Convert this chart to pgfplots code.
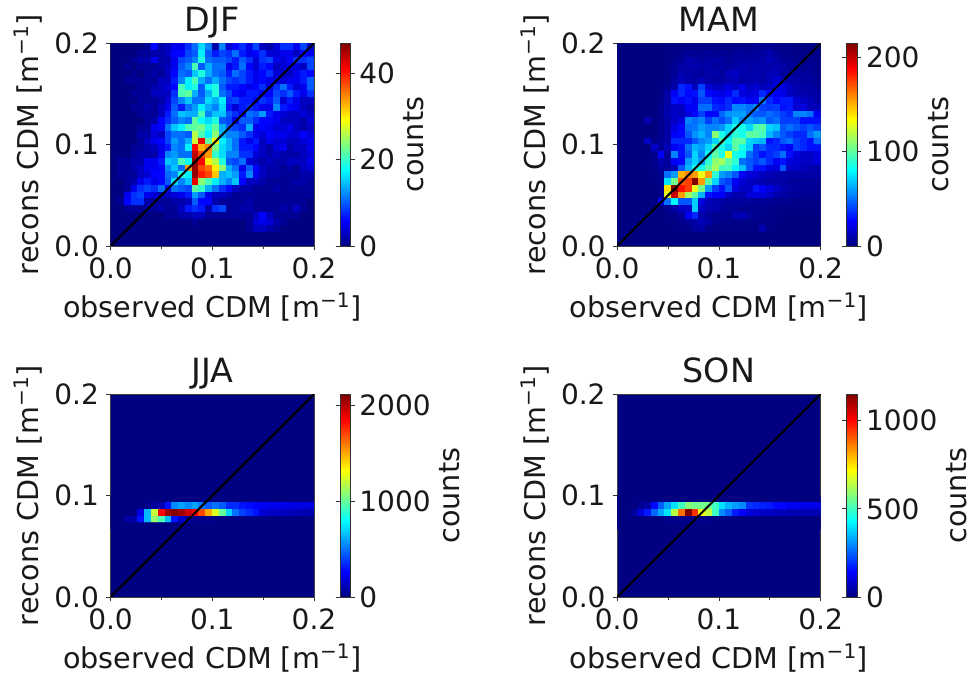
\documentclass[border=0pt]{standalone}
\usepackage{fontspec}
\setmainfont{DejaVu Sans}
\usepackage{pgfplots}
\pgfplotsset{compat=1.18}
\definecolor{jetlow}{rgb}{0,0,0.5}
\newcommand{\mone}{[m\textsuperscript{−1}]}
\pgfplotsset{
  panel/.style={
    scale only axis, width=152.6pt, height=152pt, anchor=south west,
    xmin=0, xmax=0.2, ymin=0, ymax=0.2,
    colormap/jet, point meta min=0,
    axis background/.style={fill=jetlow},
    axis line style={line width=0.6pt, black!75},
    tick style={line width=0.6pt, black!80},
    tick align=outside, tick pos=left,
    major tick length=3.2pt, minor tick length=2pt,
    xtick={0,0.1,0.2}, xticklabels={0.0,0.1,0.2},
    minor xtick={0.05,0.15},
    ytick={0,0.1,0.2}, yticklabels={0.0,0.1,0.2},
    ticklabel style={font=\fontsize{21}{22}\selectfont, text=black!90},
    xticklabel style={yshift=-2pt},
    yticklabel style={xshift=-2pt},
    xlabel={observed CDM \mone}, ylabel={recons CDM \mone},
    label style={font=\fontsize{21.5}{23}\selectfont, text=black!90},
    xlabel style={yshift=-4pt},
    ylabel style={yshift=2pt},
    title style={font=\fontsize{25}{27}\selectfont, text=black!90, anchor=base, yshift=2.5pt},
    colorbar,
  },
  cb/.style={
    colorbar style={
      at={(parent axis.south east)}, anchor=south west, xshift=11pt,
      width=7.8pt,
      axis line style={line width=0.5pt, black!80},
      tick style={line width=0.6pt, black!80},
      tick align=outside,
      major tick length=3.2pt,
      ticklabel style={font=\fontsize{21}{22}\selectfont, text=black!90},
      yticklabel style={xshift=0pt},
      ylabel={counts},
      ylabel style={font=\fontsize{21.5}{23}\selectfont, text=black!90, text depth=0pt, inner sep=0pt, yshift=-3pt},
      #1
    }
  },
  grid30/.style={
    matrix plot*, mesh/cols=30, point meta=explicit
  },
}
\begin{document}
\begin{tikzpicture}
\useasboundingbox (0,0) rectangle (728.25pt,505.5pt);

% DJF
\begin{axis}[panel, at={(82.9pt,321pt)}, title={DJF}, point meta max=47,
  cb={ytick={0,20,40}, yticklabels={0,20,40}}]
\addplot[grid30] table[row sep=\\, header=false, meta index=0,
  x expr={(mod(\coordindex,30)+0.5)/150}, y expr={0.2-(floor(\coordindex/30)+0.5)/150}] {
0\\0\\0\\0\\0\\1\\6\\2\\3\\5\\5\\8\\11\\16\\12\\2\\12\\4\\6\\8\\5\\9\\3\\2\\4\\8\\8\\5\\9\\3\\
0\\0\\0\\0\\1\\1\\2\\2\\3\\6\\6\\9\\10\\17\\10\\7\\9\\8\\11\\7\\5\\6\\8\\4\\4\\5\\5\\3\\6\\5\\
0\\0\\0\\1\\2\\2\\5\\2\\2\\5\\9\\10\\12\\19\\11\\10\\10\\9\\7\\10\\8\\4\\8\\9\\5\\4\\6\\8\\8\\9\\
0\\0\\1\\0\\1\\1\\1\\2\\3\\5\\10\\12\\21\\10\\14\\11\\11\\5\\7\\11\\6\\4\\7\\6\\3\\4\\5\\4\\3\\9\\
0\\0\\0\\1\\0\\1\\2\\1\\3\\6\\11\\10\\15\\19\\14\\11\\10\\7\\11\\9\\7\\5\\6\\8\\4\\3\\3\\5\\7\\6\\
0\\0\\1\\1\\1\\1\\1\\3\\3\\7\\12\\17\\21\\14\\11\\14\\11\\9\\8\\9\\7\\5\\6\\5\\4\\4\\5\\5\\7\\10\\
0\\0\\0\\0\\1\\1\\2\\3\\4\\6\\21\\17\\19\\10\\17\\19\\10\\7\\7\\6\\5\\6\\8\\4\\8\\11\\7\\4\\5\\10\\
0\\0\\0\\1\\1\\1\\3\\3\\3\\8\\21\\22\\14\\10\\14\\19\\11\\9\\6\\5\\7\\7\\5\\6\\9\\8\\10\\7\\5\\8\\
0\\0\\0\\0\\1\\1\\1\\2\\4\\9\\12\\15\\11\\11\\16\\14\\17\\8\\9\\7\\7\\6\\8\\7\\10\\4\\7\\5\\3\\3\\
0\\0\\0\\1\\1\\2\\1\\3\\5\\10\\7\\11\\13\\17\\14\\12\\16\\7\\4\\7\\8\\7\\5\\5\\12\\7\\6\\5\\3\\2\\
0\\0\\0\\0\\1\\1\\1\\3\\7\\11\\15\\14\\14\\21\\12\\15\\15\\10\\8\\6\\11\\10\\13\\7\\5\\4\\3\\3\\4\\3\\
0\\0\\0\\0\\0\\1\\2\\6\\8\\10\\12\\11\\22\\18\\16\\19\\10\\9\\5\\10\\10\\8\\6\\6\\5\\3\\3\\3\\2\\4\\
0\\0\\0\\0\\1\\1\\5\\6\\11\\15\\17\\21\\22\\23\\19\\22\\14\\10\\9\\8\\14\\5\\6\\5\\4\\4\\5\\3\\2\\3\\
0\\0\\0\\0\\2\\2\\4\\3\\9\\11\\11\\10\\26\\21\\17\\24\\14\\12\\12\\10\\8\\5\\4\\6\\5\\5\\4\\4\\6\\4\\
0\\0\\0\\0\\1\\3\\5\\6\\9\\13\\11\\14\\27\\42\\22\\30\\17\\14\\11\\7\\5\\7\\3\\5\\4\\4\\3\\3\\4\\5\\
0\\0\\0\\1\\1\\2\\3\\5\\7\\12\\11\\17\\41\\33\\35\\23\\16\\14\\11\\7\\7\\6\\3\\2\\4\\5\\2\\3\\3\\5\\
0\\0\\0\\1\\2\\2\\2\\5\\12\\13\\11\\11\\44\\38\\34\\20\\16\\12\\12\\8\\8\\4\\3\\2\\3\\2\\2\\2\\3\\4\\
0\\1\\1\\2\\2\\5\\5\\7\\15\\14\\21\\18\\46\\41\\30\\26\\19\\10\\9\\11\\4\\3\\2\\3\\2\\2\\3\\3\\3\\5\\
0\\1\\1\\2\\3\\5\\5\\6\\12\\15\\11\\34\\46\\38\\36\\30\\24\\14\\11\\5\\10\\6\\3\\2\\2\\1\\2\\1\\3\\4\\
0\\1\\1\\1\\3\\4\\6\\6\\11\\12\\19\\17\\46\\40\\38\\32\\14\\15\\13\\7\\12\\5\\3\\2\\2\\1\\1\\1\\2\\2\\
0\\0\\1\\2\\5\\7\\5\\6\\10\\16\\12\\15\\42\\24\\21\\17\\14\\12\\15\\6\\3\\3\\2\\1\\1\\1\\1\\2\\2\\1\\
0\\0\\1\\5\\8\\9\\8\\11\\5\\11\\10\\9\\22\\20\\14\\11\\8\\6\\3\\2\\2\\1\\1\\1\\2\\1\\1\\1\\1\\1\\
0\\0\\5\\8\\9\\5\\4\\2\\3\\4\\5\\7\\13\\10\\5\\3\\3\\2\\1\\1\\1\\1\\1\\1\\1\\1\\1\\1\\1\\1\\
0\\1\\6\\8\\8\\2\\1\\1\\1\\2\\2\\3\\10\\6\\6\\2\\1\\1\\1\\1\\2\\1\\1\\1\\1\\1\\1\\1\\1\\0\\
0\\0\\1\\1\\1\\1\\1\\2\\1\\1\\3\\7\\8\\7\\2\\8\\9\\1\\1\\2\\2\\1\\1\\1\\1\\2\\1\\3\\1\\0\\
0\\0\\0\\0\\0\\0\\0\\0\\1\\1\\2\\2\\3\\3\\1\\1\\1\\1\\1\\1\\1\\3\\6\\3\\1\\1\\1\\1\\0\\0\\
0\\0\\0\\0\\0\\0\\0\\0\\0\\0\\0\\0\\1\\0\\0\\0\\0\\0\\0\\0\\1\\4\\5\\4\\2\\1\\0\\0\\0\\0\\
0\\0\\0\\0\\0\\0\\0\\0\\0\\0\\0\\0\\0\\0\\0\\0\\0\\0\\0\\0\\1\\3\\3\\2\\1\\0\\0\\0\\0\\0\\
0\\0\\0\\0\\0\\0\\0\\0\\0\\0\\0\\0\\0\\0\\0\\0\\0\\0\\0\\0\\0\\0\\0\\0\\0\\0\\0\\0\\0\\0\\
0\\0\\0\\0\\0\\0\\0\\0\\0\\0\\0\\0\\0\\0\\0\\0\\0\\0\\0\\0\\0\\0\\0\\0\\0\\0\\0\\0\\0\\0\\
};
\addplot[black, line width=1.5pt] coordinates {(0,0) (0.2,0.2)};
\end{axis}

% MAM
\begin{axis}[panel, at={(462.9pt,321pt)}, title={MAM}, point meta max=215,
  cb={ytick={0,100,200}, yticklabels={0,100,200}}]
\addplot[grid30] table[row sep=\\, header=false, meta index=0,
  x expr={(mod(\coordindex,30)+0.5)/150}, y expr={0.2-(floor(\coordindex/30)+0.5)/150}] {
0\\0\\0\\0\\0\\0\\0\\0\\1\\1\\2\\2\\2\\2\\2\\2\\2\\3\\3\\3\\4\\4\\4\\3\\2\\2\\1\\1\\1\\1\\
0\\0\\0\\0\\0\\0\\0\\1\\2\\3\\5\\4\\4\\5\\4\\5\\4\\5\\6\\5\\6\\7\\10\\5\\3\\3\\2\\2\\2\\2\\
0\\0\\0\\0\\0\\0\\0\\1\\3\\5\\10\\8\\6\\7\\8\\7\\5\\6\\7\\8\\6\\8\\12\\8\\5\\4\\3\\2\\3\\3\\
0\\0\\0\\0\\0\\0\\0\\1\\4\\8\\8\\10\\8\\9\\7\\8\\6\\8\\10\\8\\9\\9\\8\\10\\8\\5\\5\\4\\5\\3\\
0\\0\\0\\0\\0\\0\\0\\1\\5\\10\\8\\7\\6\\8\\9\\6\\12\\14\\10\\9\\10\\8\\11\\12\\7\\8\\6\\6\\5\\3\\
0\\0\\0\\0\\0\\1\\1\\2\\6\\13\\9\\8\\12\\8\\7\\8\\10\\12\\8\\9\\10\\8\\12\\18\\14\\9\\8\\7\\7\\4\\
0\\0\\0\\0\\0\\0\\1\\3\\8\\35\\30\\12\\40\\18\\14\\14\\20\\15\\22\\14\\18\\13\\14\\22\\20\\14\\10\\8\\8\\5\\
0\\0\\0\\0\\0\\0\\2\\8\\25\\35\\28\\30\\45\\28\\24\\20\\25\\36\\20\\18\\20\\35\\28\\24\\22\\14\\11\\10\\8\\8\\
0\\0\\0\\0\\0\\0\\2\\8\\30\\25\\30\\22\\40\\40\\30\\28\\35\\28\\30\\24\\25\\50\\35\\28\\32\\32\\18\\14\\12\\8\\
0\\0\\0\\0\\0\\0\\3\\9\\15\\14\\25\\25\\50\\50\\35\\32\\36\\55\\55\\50\\55\\40\\38\\40\\30\\32\\18\\20\\12\\12\\
0\\0\\0\\0\\0\\0\\3\\10\\15\\12\\20\\28\\40\\28\\28\\48\\58\\60\\60\\50\\45\\45\\50\\45\\40\\35\\55\\55\\50\\25\\
0\\0\\0\\0\\10\\1\\3\\8\\15\\20\\55\\50\\55\\40\\50\\42\\50\\70\\55\\60\\55\\58\\45\\50\\40\\40\\40\\30\\30\\30\\
0\\0\\0\\0\\0\\0\\4\\8\\20\\28\\50\\52\\60\\55\\55\\58\\72\\85\\85\\72\\95\\100\\72\\68\\45\\50\\45\\40\\45\\40\\
0\\0\\0\\0\\0\\0\\3\\8\\25\\28\\45\\58\\65\\55\\110\\85\\72\\90\\85\\100\\100\\95\\65\\55\\45\\40\\35\\35\\50\\60\\
0\\0\\0\\0\\15\\3\\5\\8\\35\\35\\35\\45\\55\\60\\72\\95\\80\\100\\100\\72\\68\\65\\30\\35\\45\\50\\40\\35\\30\\50\\
0\\0\\0\\0\\0\\15\\5\\12\\25\\30\\50\\65\\60\\72\\95\\85\\72\\100\\85\\70\\40\\45\\35\\35\\30\\25\\40\\35\\30\\30\\
0\\0\\0\\0\\0\\3\\25\\5\\55\\30\\45\\72\\55\\80\\100\\85\\130\\85\\80\\50\\40\\30\\35\\40\\50\\30\\20\\15\\15\\20\\
0\\0\\0\\0\\1\\3\\10\\6\\25\\28\\60\\72\\60\\90\\110\\115\\100\\90\\50\\45\\40\\45\\35\\25\\30\\20\\18\\15\\15\\20\\
0\\0\\0\\0\\1\\2\\6\\6\\12\\45\\65\\85\\85\\100\\115\\95\\95\\78\\68\\45\\30\\30\\20\\20\\45\\15\\15\\12\\10\\10\\
0\\0\\0\\0\\0\\1\\3\\50\\60\\150\\160\\155\\130\\155\\90\\60\\55\\45\\25\\20\\18\\14\\12\\10\\8\\8\\8\\8\\8\\8\\
0\\0\\0\\0\\0\\1\\3\\75\\105\\170\\175\\215\\155\\100\\72\\45\\40\\25\\18\\14\\12\\10\\8\\8\\8\\6\\5\\5\\5\\5\\
0\\0\\0\\0\\0\\0\\2\\140\\215\\185\\175\\130\\105\\60\\40\\30\\45\\20\\14\\15\\30\\25\\20\\15\\10\\8\\6\\5\\5\\5\\
0\\0\\0\\0\\0\\0\\2\\130\\200\\155\\115\\100\\65\\30\\25\\25\\15\\10\\10\\18\\20\\20\\15\\10\\8\\6\\5\\4\\4\\4\\
0\\0\\0\\0\\0\\1\\25\\50\\80\\45\\45\\70\\20\\12\\10\\8\\6\\6\\6\\6\\5\\5\\5\\4\\3\\3\\2\\2\\2\\2\\
0\\0\\0\\0\\0\\0\\1\\3\\8\\15\\15\\70\\14\\10\\10\\6\\4\\4\\3\\3\\3\\3\\2\\2\\1\\1\\1\\1\\1\\1\\
0\\0\\0\\0\\0\\0\\0\\1\\2\\5\\25\\35\\10\\6\\4\\3\\3\\10\\12\\6\\3\\3\\2\\1\\1\\1\\1\\1\\1\\1\\
0\\0\\0\\0\\0\\0\\0\\0\\1\\3\\5\\8\\12\\8\\3\\2\\2\\2\\2\\2\\2\\2\\2\\1\\0\\0\\0\\0\\0\\0\\
0\\0\\0\\0\\0\\0\\0\\0\\0\\1\\2\\6\\8\\2\\1\\1\\1\\1\\1\\1\\1\\10\\1\\0\\0\\0\\0\\0\\0\\0\\
0\\0\\0\\0\\0\\0\\0\\0\\0\\0\\0\\0\\0\\0\\0\\0\\0\\0\\0\\0\\0\\0\\0\\0\\0\\0\\0\\0\\0\\0\\
0\\0\\0\\0\\0\\0\\0\\0\\0\\0\\0\\0\\0\\0\\0\\0\\0\\0\\0\\0\\0\\0\\0\\0\\0\\0\\0\\0\\0\\0\\
};
\addplot[black, line width=1.5pt] coordinates {(0,0) (0.2,0.2)};
\end{axis}

% JJA
\begin{axis}[panel, at={(82.9pt,57.75pt)}, title={JJA}, point meta max=2115,
  cb={ytick={0,1000,2000}, yticklabels={0,1000,2000}}]
\addplot[grid30] table[row sep=\\, header=false, meta index=0,
  x expr={(mod(\coordindex,30)+0.5)/150}, y expr={0.2-(floor(\coordindex/30)+15.5)/150}] {
0\\0\\0\\0\\0\\0\\0\\0\\0\\0\\0\\0\\0\\0\\0\\0\\0\\0\\0\\0\\0\\0\\0\\0\\0\\0\\0\\0\\0\\0\\
0\\0\\0\\0\\0\\20\\60\\100\\300\\550\\600\\550\\600\\520\\450\\500\\450\\350\\350\\300\\280\\260\\240\\230\\220\\220\\210\\210\\200\\200\\
0\\0\\0\\0\\200\\650\\1200\\1850\\2050\\2100\\2050\\1950\\1850\\1700\\1500\\1250\\1000\\700\\500\\400\\350\\300\\180\\150\\140\\130\\120\\110\\100\\100\\
0\\0\\80\\80\\300\\650\\1100\\950\\650\\300\\150\\60\\30\\20\\20\\10\\10\\10\\5\\5\\5\\5\\5\\5\\5\\5\\5\\5\\5\\5\\
0\\0\\0\\0\\0\\0\\0\\0\\0\\0\\0\\0\\0\\0\\0\\0\\0\\0\\0\\0\\0\\0\\0\\0\\0\\0\\0\\0\\0\\0\\
};
\addplot[black, line width=1.5pt] coordinates {(0,0) (0.2,0.2)};
\end{axis}

% SON
\begin{axis}[panel, at={(462.9pt,57.75pt)}, title={SON}, point meta max=1150,
  cb={ytick={0,500,1000}, yticklabels={0,500,1000}}]
\addplot[grid30] table[row sep=\\, header=false, meta index=0,
  x expr={(mod(\coordindex,30)+0.5)/150}, y expr={0.2-(floor(\coordindex/30)+15.5)/150}] {
0\\0\\0\\0\\0\\0\\0\\0\\0\\0\\0\\0\\0\\0\\0\\0\\0\\0\\0\\0\\0\\0\\0\\0\\0\\0\\0\\0\\0\\0\\
0\\0\\0\\20\\40\\150\\250\\330\\400\\500\\580\\560\\560\\560\\500\\400\\350\\320\\300\\200\\190\\180\\170\\150\\150\\130\\130\\120\\120\\120\\
0\\0\\30\\100\\170\\260\\330\\400\\640\\880\\1150\\950\\700\\650\\500\\300\\250\\170\\140\\100\\90\\80\\80\\70\\70\\60\\60\\60\\60\\60\\
0\\0\\0\\0\\0\\0\\0\\15\\15\\15\\15\\10\\10\\10\\5\\5\\5\\5\\0\\0\\0\\0\\0\\0\\0\\0\\0\\0\\0\\0\\
0\\0\\0\\0\\0\\0\\0\\0\\0\\0\\0\\0\\0\\0\\0\\0\\0\\0\\0\\0\\0\\0\\0\\0\\0\\0\\0\\0\\0\\0\\
};
\addplot[black, line width=1.5pt] coordinates {(0,0) (0.2,0.2)};
\end{axis}
\end{tikzpicture}
\end{document}
